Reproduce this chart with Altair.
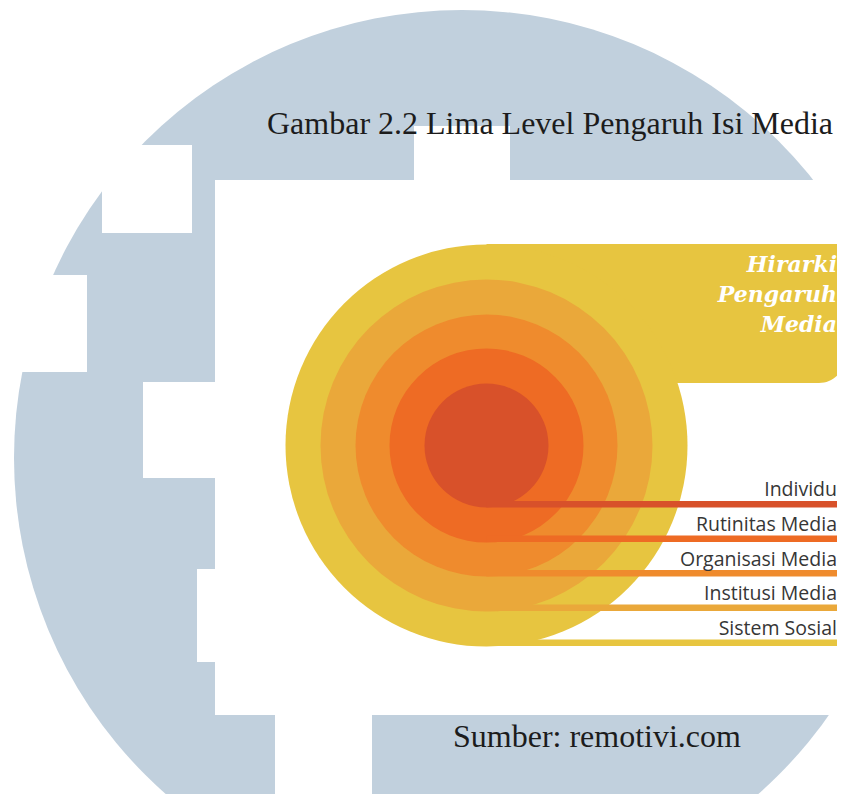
import altair as alt
import pandas as pd

# ---------------- data (image pixel coordinates) ----------------
# watermark disc
wm_cx = [462]
wm_cy = [458]
wm_r = [448]

# white cut-outs of the watermark (last one is the white picture panel)
cut_x1 = [414, 102, 0, 143, 197, 275, 215]
cut_x2 = [510, 192, 87, 215, 215, 372, 845]
cut_y1 = [126, 145, 275, 382, 569, 715, 180]
cut_y2 = [180, 233, 372, 478, 662, 802, 715]

# five levels (inner -> outer)
levels = ["Individu", "Rutinitas Media", "Organisasi Media", "Institusi Media", "Sistem Sosial"]
ring_r = [62, 97, 131, 166, 201]
ring_cx = [486.5] * 5
ring_cy = [445.5] * 5
bar_x1 = [486.5] * 5
bar_x2 = [838] * 5
bar_top = [501, 535.5, 570, 604.5, 639.5]
bar_bottom = [507.5, 542, 576.5, 611, 646]
label_x = [837] * 5
label_y = [496, 530.5, 565.5, 600, 634.5]

# yellow banner
banner_x1 = [486.5]
banner_x2 = [845]
banner_y1 = [244]
banner_y2 = [383]
banner_lines = ["Hirarki", "Pengaruh", "Media"]
banner_line_x = [837, 837, 837]
banner_line_y = [272, 301.5, 332]

# captions
title_text = ["Gambar 2.2 Lima Level Pengaruh Isi Media"]
title_x = [267]
title_y = [133.5]
source_text = ["Sumber: remotivi.com"]
source_x = [453]
source_y = [747]

palette = ["#d8512a", "#ee6b24", "#ef8b2d", "#eaa83a", "#e7c540"]

# ---------------- scales (1 data unit = 1 screen pixel) ----------------
W, H = 829, 786
xs = alt.Scale(domain=[8, 8 + W], nice=False, zero=False)
ys = alt.Scale(domain=[8, 8 + H], nice=False, zero=False, reverse=True)
ss = alt.Scale(type="pow", exponent=2, domain=[0, 1000], range=[0, 4000000], nice=False)
cs = alt.Scale(domain=levels, range=palette)


def X(f):
    return alt.X(f, type="quantitative", scale=xs, axis=None)


def Y(f):
    return alt.Y(f, type="quantitative", scale=ys, axis=None)


wm_df = pd.DataFrame({"cx": wm_cx, "cy": wm_cy, "r": wm_r})
cut_df = pd.DataFrame({"x1": cut_x1, "x2": cut_x2, "y1": cut_y1, "y2": cut_y2})
ring_df = pd.DataFrame({"level": levels, "cx": ring_cx, "cy": ring_cy, "r": ring_r}).iloc[::-1]
bar_df = pd.DataFrame({"level": levels, "x1": bar_x1, "x2": bar_x2, "y1": bar_top, "y2": bar_bottom}).iloc[::-1]
label_df = pd.DataFrame({"level": levels, "x": label_x, "y": label_y})
banner_df = pd.DataFrame({"level": ["Sistem Sosial"], "x1": banner_x1, "x2": banner_x2,
                          "y1": banner_y1, "y2": banner_y2})
bline_df = pd.DataFrame({"t": banner_lines, "x": banner_line_x, "y": banner_line_y})
title_df = pd.DataFrame({"t": title_text, "x": title_x, "y": title_y})
source_df = pd.DataFrame({"t": source_text, "x": source_x, "y": source_y})

watermark = alt.Chart(wm_df).mark_point(shape="circle", filled=True, opacity=1, strokeWidth=0,
                                         clip=True).encode(
    x=X("cx"), y=Y("cy"), size=alt.Size("r:Q", scale=ss, legend=None),
    color=alt.value("#c1d0dd"))

cuts = alt.Chart(cut_df).mark_rect(clip=True).encode(
    x=X("x1"), x2="x2", y=Y("y1"), y2="y2", color=alt.value("#ffffff"))

title = alt.Chart(title_df).mark_text(align="left", baseline="alphabetic", font="Liberation Serif",
                                      fontSize=32, color="#1c1c1c").encode(
    x=X("x"), y=Y("y"), text="t:N")

banner = alt.Chart(banner_df).mark_rect(cornerRadiusBottomRight=26, clip=True).encode(
    x=X("x1"), x2="x2", y=Y("y1"), y2="y2",
    color=alt.Color("level:N", scale=cs, legend=None))

rings = alt.Chart(ring_df).mark_point(shape="circle", filled=True, opacity=1, strokeWidth=0).encode(
    x=X("cx"), y=Y("cy"), size=alt.Size("r:Q", scale=ss, legend=None),
    color=alt.Color("level:N", scale=cs, legend=None))

bars = alt.Chart(bar_df).mark_rect(clip=True).encode(
    x=X("x1"), x2="x2", y=Y("y1"), y2="y2",
    color=alt.Color("level:N", scale=cs, legend=None))

labels = alt.Chart(label_df).mark_text(align="right", baseline="alphabetic", font="Open Sans",
                                       fontSize=19.5, color="#363636").encode(
    x=X("x"), y=Y("y"), text="level:N")

blines = alt.Chart(bline_df).mark_text(align="right", baseline="alphabetic", font="DejaVu Serif",
                                       fontStyle="italic", fontWeight="bold", fontSize=22,
                                       color="#ffffff").encode(
    x=X("x"), y=Y("y"), text="t:N")

source = alt.Chart(source_df).mark_text(align="left", baseline="alphabetic", font="Liberation Serif",
                                        fontSize=32, color="#1c1c1c").encode(
    x=X("x"), y=Y("y"), text="t:N")

chart = alt.layer(watermark, cuts, title, banner, rings, bars, labels, blines, source).properties(
    width=W, height=H, padding=0, autosize=alt.AutoSizeParams(type="none"),
    background="#ffffff"
).configure_view(stroke=None)

chart.save("out.html", embed_options={"renderer": "svg", "actions": False})
